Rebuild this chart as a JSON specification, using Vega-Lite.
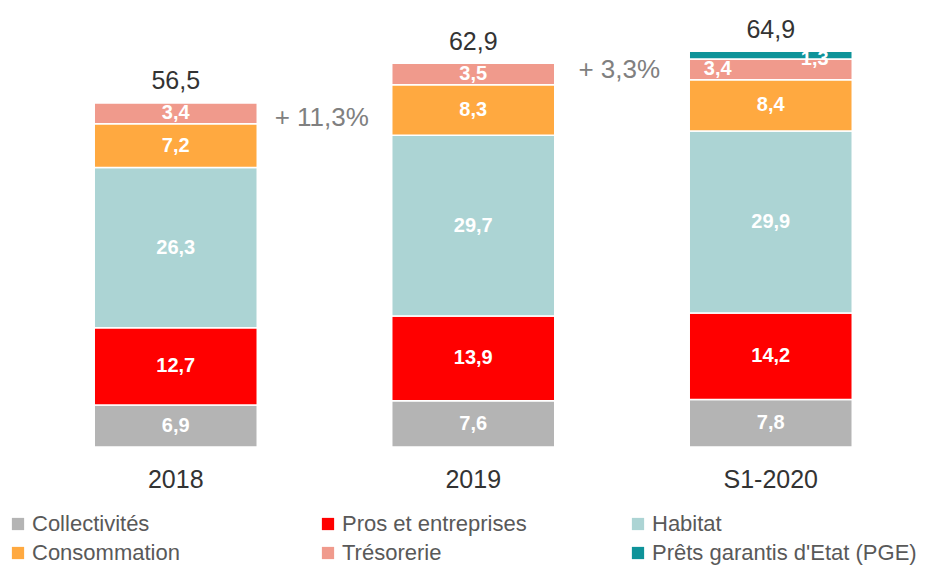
{
  "$schema": "https://vega.github.io/schema/vega-lite/v6.json",
  "autosize": "none",
  "width": 892.5,
  "height": 447,
  "padding": {"left": 27, "top": 0, "right": 20.5, "bottom": 118},
  "background": "white",
  "config": {
    "view": {"stroke": null},
    "font": "Liberation Sans",
    "locale": {"number": {"decimal": ",", "thousands": " ", "grouping": [3], "currency": ["", " €"]}}
  },
  "datasets": {
    "segments": [
      {"annee": "2018", "categorie": "Collectivités", "ordre": 1, "valeur": 6.9},
      {"annee": "2018", "categorie": "Pros et entreprises", "ordre": 2, "valeur": 12.7},
      {"annee": "2018", "categorie": "Habitat", "ordre": 3, "valeur": 26.3},
      {"annee": "2018", "categorie": "Consommation", "ordre": 4, "valeur": 7.2},
      {"annee": "2018", "categorie": "Trésorerie", "ordre": 5, "valeur": 3.4},
      {"annee": "2019", "categorie": "Collectivités", "ordre": 1, "valeur": 7.6},
      {"annee": "2019", "categorie": "Pros et entreprises", "ordre": 2, "valeur": 13.9},
      {"annee": "2019", "categorie": "Habitat", "ordre": 3, "valeur": 29.7},
      {"annee": "2019", "categorie": "Consommation", "ordre": 4, "valeur": 8.3},
      {"annee": "2019", "categorie": "Trésorerie", "ordre": 5, "valeur": 3.5},
      {"annee": "S1-2020", "categorie": "Collectivités", "ordre": 1, "valeur": 7.8},
      {"annee": "S1-2020", "categorie": "Pros et entreprises", "ordre": 2, "valeur": 14.2},
      {"annee": "S1-2020", "categorie": "Habitat", "ordre": 3, "valeur": 29.9},
      {"annee": "S1-2020", "categorie": "Consommation", "ordre": 4, "valeur": 8.4},
      {"annee": "S1-2020", "categorie": "Trésorerie", "ordre": 5, "valeur": 3.4},
      {"annee": "S1-2020", "categorie": "Prêts garantis d'Etat (PGE)", "ordre": 6, "valeur": 1.3}
    ],
    "totaux": [
      {"annee": "2018", "total": 56.5},
      {"annee": "2019", "total": 62.9},
      {"annee": "S1-2020", "total": 64.9}
    ],
    "evolutions": [
      {"annee": "2018", "niveau": 54.0, "texte": "+ 11,3%"},
      {"annee": "2019", "niveau": 61.9, "texte": "+ 3,3%"}
    ]
  },
  "encoding": {
    "x": {
      "field": "annee", "type": "nominal", "title": null,
      "scale": {"paddingInner": 0.452, "paddingOuter": 0.226},
      "axis": {"domain": false, "ticks": false, "labelAngle": 0, "labelFontSize": 25, "labelColor": "#333333", "labelPadding": 20}
    }
  },
  "layer": [
    {
      "data": {"name": "segments"},
      "mark": {"type": "bar", "stroke": "white", "strokeWidth": 1.5},
      "encoding": {
        "y": {"field": "valeur", "type": "quantitative", "stack": "zero", "scale": {"domain": [0, 73.4], "nice": false}, "axis": null},
        "order": {"field": "ordre", "type": "quantitative"},
        "color": {
          "field": "categorie", "type": "nominal",
          "scale": {
            "domain": ["Collectivités", "Pros et entreprises", "Habitat", "Consommation", "Trésorerie", "Prêts garantis d'Etat (PGE)"],
            "range": ["#b4b4b4", "#ff0000", "#acd4d4", "#ffa940", "#f09a8c", "#0e9399"]
          },
          "legend": {
            "title": null, "orient": "none", "legendX": -20, "legendY": 513,
            "direction": "horizontal", "columns": 3, "gridAlign": "all", "columnPadding": 20, "rowPadding": 7,
            "symbolType": "square", "symbolSize": 150, "symbolStrokeWidth": 0,
            "labelFontSize": 22, "labelColor": "#595959", "labelLimit": 400, "labelOffset": 3
          }
        }
      }
    },
    {
      "data": {"name": "segments"},
      "transform": [{"filter": "datum.ordre < 6 && !(datum.annee === 'S1-2020' && datum.ordre === 5)"}],
      "mark": {"type": "text", "color": "white", "fontWeight": "bold", "fontSize": 20, "baseline": "middle"},
      "encoding": {
        "y": {"field": "valeur", "type": "quantitative", "stack": "zero", "bandPosition": 0.5},
        "order": {"field": "ordre", "type": "quantitative"},
        "text": {"field": "valeur", "type": "quantitative", "format": ".1f"}
      }
    },
    {
      "data": {"name": "segments"},
      "transform": [
        {"stack": "valeur", "groupby": ["annee"], "sort": [{"field": "ordre"}], "as": ["bas", "haut"]},
        {"filter": "datum.annee === 'S1-2020' && datum.ordre === 5"}
      ],
      "mark": {"type": "text", "color": "white", "fontWeight": "bold", "fontSize": 20, "baseline": "middle", "dx": -53, "dy": -11},
      "encoding": {
        "y": {"field": "bas", "type": "quantitative"},
        "text": {"field": "valeur", "type": "quantitative", "format": ".1f"}
      }
    },
    {
      "data": {"name": "segments"},
      "transform": [
        {"stack": "valeur", "groupby": ["annee"], "sort": [{"field": "ordre"}], "as": ["bas", "haut"]},
        {"filter": "datum.annee === 'S1-2020' && datum.ordre === 6"}
      ],
      "mark": {"type": "text", "color": "white", "fontWeight": "bold", "fontSize": 20, "baseline": "middle", "dx": 44, "dy": 0},
      "encoding": {
        "y": {"field": "bas", "type": "quantitative"},
        "text": {"field": "valeur", "type": "quantitative", "format": ".1f"}
      }
    },
    {
      "data": {"name": "totaux"},
      "mark": {"type": "text", "color": "#333333", "fontSize": 25, "baseline": "alphabetic", "dy": -14},
      "encoding": {
        "y": {"field": "total", "type": "quantitative"},
        "text": {"field": "total", "type": "quantitative", "format": ".1f"}
      }
    },
    {
      "data": {"name": "evolutions"},
      "mark": {"type": "text", "color": "#808080", "fontSize": 26, "baseline": "middle", "dx": 146},
      "encoding": {
        "y": {"field": "niveau", "type": "quantitative"},
        "text": {"field": "texte", "type": "nominal"}
      }
    }
  ]
}
